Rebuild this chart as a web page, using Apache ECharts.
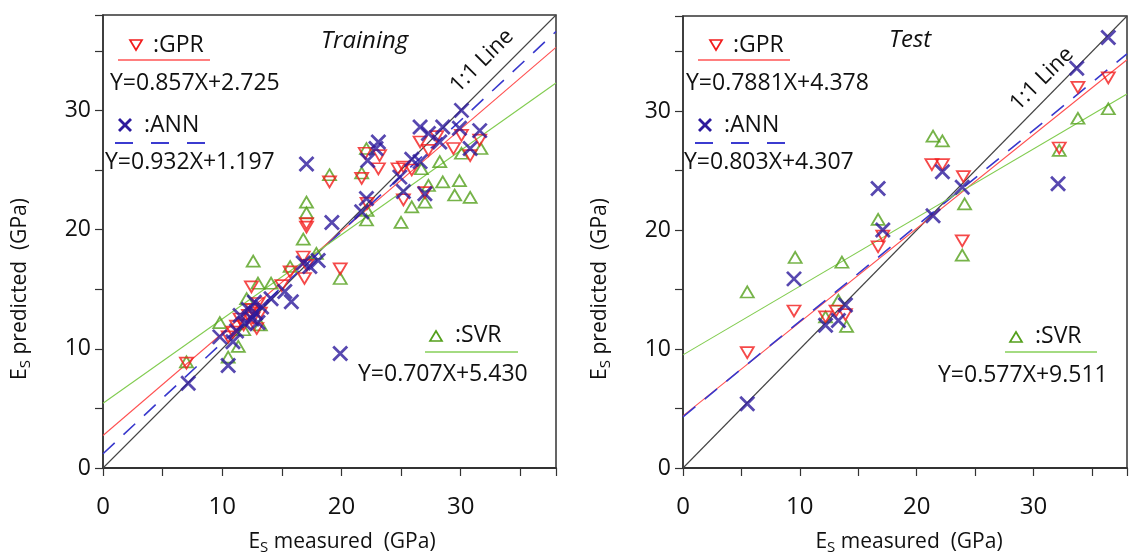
<!DOCTYPE html>
<html>
<head>
<meta charset="utf-8">
<title>Es measured vs predicted</title>
<script src="https://cdn.jsdelivr.net/npm/echarts@6/dist/echarts.min.js"></script>
<style>
    html, body { margin: 0; padding: 0; background: #fff; }
    #main { width: 1130px; height: 556px; }
</style>
</head>
<body>
<div id="main"></div>
<script>
// training set: [measured, predicted]
var trainGPR = [[7.0, 8.8], [10.5, 11.0], [10.9, 11.4], [11.2, 11.9], [11.5, 12.5], [11.8, 12.0], [12.2, 12.8],
    [12.5, 13.3], [12.9, 11.7], [12.6, 12.6], [13.2, 13.0], [13.0, 13.8], [12.45, 15.2], [15.0, 15.3],
    [15.7, 16.45], [16.9, 15.9], [16.8, 17.7], [17.1, 17.0], [19.9, 16.7], [17.07, 20.5], [17.07, 20.2],
    [19.0, 24.0], [21.7, 24.3], [22.0, 26.4], [23.2, 26.2], [23.1, 25.1], [22.15, 22.2], [24.75, 25.1],
    [25.2, 22.5], [25.9, 25.0], [27.0, 23.1], [26.6, 27.35], [27.3, 26.65], [28.0, 27.8], [30.07, 27.9],
    [29.4, 26.8], [31.6, 27.5], [30.8, 26.2], [25.2, 25.25]];
var trainANN = [[7.15, 7.1], [9.8, 11.0], [10.5, 8.6], [10.9, 10.6], [11.2, 11.5], [11.5, 12.8], [11.9, 12.1],
    [12.2, 13.3], [12.5, 12.5], [12.8, 13.0], [13.0, 12.2], [13.3, 13.5], [12.7, 13.9], [14.1, 14.2],
    [15.25, 14.8], [15.8, 13.95], [16.8, 17.2], [17.35, 16.9], [18.05, 17.4], [19.9, 9.6], [19.2, 20.6],
    [17.07, 25.5], [21.7, 21.5], [22.1, 22.6], [22.2, 25.8], [22.9, 26.8], [23.1, 27.35], [24.9, 24.4],
    [25.2, 23.2], [25.9, 25.9], [26.6, 25.7], [27.0, 23.0], [26.6, 28.6], [27.3, 28.05], [28.25, 27.35],
    [28.5, 28.6], [29.9, 28.5], [30.07, 30.0], [31.6, 28.3], [30.8, 26.8]];
var trainSVR = [[7.0, 8.9], [9.8, 12.2], [10.5, 9.3], [11.35, 10.2], [12.05, 14.2], [11.8, 11.6], [12.6, 17.35],
    [13.0, 15.5], [14.1, 15.5], [15.7, 16.9], [13.2, 12.0], [16.8, 19.2], [17.07, 21.4], [17.07, 22.3],
    [17.9, 18.0], [19.9, 15.9], [19.0, 24.6], [21.7, 24.75], [22.1, 26.8], [22.15, 21.6], [22.1, 20.8],
    [25.0, 20.6], [25.9, 21.9], [27.0, 22.3], [26.7, 25.1], [27.3, 23.7], [28.5, 24.0], [29.9, 24.1],
    [29.5, 22.9], [30.8, 22.7], [28.25, 25.7], [30.07, 26.4], [31.7, 26.8]];

// test set
var testGPR = [[5.5, 9.7], [9.5, 13.2], [12.2, 12.7], [13.1, 13.2], [13.9, 12.9], [16.7, 18.6], [17.1, 19.5],
    [21.3, 25.5], [22.2, 25.5], [24.0, 24.5], [23.9, 19.1], [32.2, 26.9], [33.8, 32.0], [36.4, 32.8]];
var testANN = [[5.5, 5.4], [9.5, 15.9], [12.2, 12.0], [13.3, 12.4], [13.9, 13.7], [16.7, 23.5], [17.1, 20.0],
    [21.4, 21.2], [22.2, 24.9], [23.9, 23.6], [32.1, 23.9], [33.7, 33.6], [36.4, 36.2]];
var testSVR = [[5.5, 14.8], [9.6, 17.7], [13.6, 17.3], [13.3, 14.1], [12.2, 12.7], [14.0, 11.9], [16.7, 20.9],
    [21.4, 27.9], [22.2, 27.5], [24.1, 22.2], [23.9, 17.9], [32.2, 26.7], [33.8, 29.4], [36.4, 30.2]];

// regression lines [slope, intercept] : GPR, ANN, SVR
var trainFit = [[0.857, 2.725], [0.932, 1.197], [0.707, 5.430]];
var testFit = [[0.7881, 4.378], [0.803, 4.307], [0.577, 9.511]];
var axisMax = 38;

var RED = "#f21c1c", BLUE = "#2d1a9c", GREEN = "#54a01c";
var FONT = "Open Sans";
var CROSS = "path://M0,0L10,10M0,10L10,0";

function fitLine(f) {
    return [[0, f[1]], [axisMax, f[0] * axisMax + f[1]]];
}

function makeAxis(idx, isX) {
    return {
        gridIndex: idx,
        min: 0,
        max: axisMax,
        interval: 5,
        splitLine: { show: false },
        axisLine: { lineStyle: { color: "#333", width: isX ? 2 : 1.5 } },
        axisTick: { length: 8, lineStyle: { color: "#333", width: 1.2 } },
        axisLabel: {
            fontFamily: FONT, fontSize: isX ? 24 : 23, color: "#111", margin: isX ? 27 : 12,
            formatter: function(v) { return v % 10 === 0 ? v : ""; }
        }
    };
}

function scatter(data, idx, kind) {
    var s = {
        type: "scatter", xAxisIndex: idx, yAxisIndex: idx, data: data, z: 3,
        itemStyle: { color: "rgba(0,0,0,0)", borderWidth: 1.8 }
    };
    if (kind === "gpr") {
        s.symbol = "triangle"; s.symbolRotate = 180; s.symbolSize = [13, 11];
        s.itemStyle.borderColor = RED;
    } else if (kind === "ann") {
        s.symbol = CROSS; s.symbolSize = 14;
        s.itemStyle.borderColor = BLUE; s.itemStyle.borderWidth = 2.8;
    } else {
        s.symbol = "triangle"; s.symbolSize = [13, 11];
        s.itemStyle.borderColor = GREEN;
    }
    return s;
}

function line(data, idx, color, type, width) {
    return {
        type: "line", xAxisIndex: idx, yAxisIndex: idx, data: data, showSymbol: false,
        silent: true, z: 2, clip: true,
        lineStyle: { color: color, width: width || 1.1, type: type || "solid" }
    };
}

// 图例/标注 用 graphic 画
function txt(x, y, s, size, extra) {
    var st = { text: s, fontFamily: FONT, fontSize: size || 23, fill: "#111", align: "left", verticalAlign: "middle" };
    for (var k in extra) st[k] = extra[k];
    return { type: "text", x: x, y: y, style: st, z: 10 };
}

function hline(x1, x2, y, color, dash) {
    return { type: "line", shape: { x1: x1, y1: y, x2: x2, y2: y },
        style: { stroke: color, lineWidth: dash ? 1.8 : 1.6, lineDash: dash || null }, z: 10 };
}

function tri(cx, cy, color, down) {
    var pts = down ? [[cx - 6, cy - 5], [cx + 6, cy - 5], [cx, cy + 5]] : [[cx - 6, cy + 5], [cx + 6, cy + 5], [cx, cy - 5]];
    return { type: "polygon", shape: { points: pts }, style: { fill: "none", stroke: color, lineWidth: 1.7 }, z: 10 };
}

function cross(cx, cy) {
    return { type: "group", z: 10, children: [
        { type: "line", shape: { x1: cx - 6, y1: cy - 6, x2: cx + 6, y2: cy + 6 }, style: { stroke: BLUE, lineWidth: 2.8 } },
        { type: "line", shape: { x1: cx - 6, y1: cy + 6, x2: cx + 6, y2: cy - 6 }, style: { stroke: BLUE, lineWidth: 2.8 } }
    ] };
}

function lineLabel(cx, cy) {
    return { type: "text", x: cx, y: cy, rotation: Math.PI / 4, z: 10,
        style: { text: "1:1 Line", fontFamily: FONT, fontSize: 22, fill: "#111", align: "center", verticalAlign: "middle" } };
}

var richTitle = {
    a: { fontFamily: FONT, fontSize: 21, fill: "#111" },
    s: { fontFamily: FONT, fontSize: 15, fill: "#111", padding: [11, 0, 0, 0] }
};

function xTitle(cx) {
    return { type: "text", x: cx, y: 542, z: 10,
        style: { text: "{a|E}{s|S}{a| measured  (GPa)}", rich: richTitle, align: "center", verticalAlign: "middle" } };
}

function yTitle(cx) {
    return { type: "text", x: cx, y: 289, rotation: Math.PI / 2, z: 10,
        style: { text: "{a|E}{s|S}{a| predicted  (GPa)}", rich: richTitle, align: "center", verticalAlign: "middle" } };
}

var graphics = [
    // Training
    tri(136, 45, RED, true), txt(153, 45, ":GPR"), hline(118, 210, 60, "#ff5555"),
    txt(110, 83, "Y=0.857X+2.725"),
    cross(125, 125), txt(144, 125, ":ANN"), hline(115, 210, 143, "#3b3bd0", [18, 18]),
    txt(105, 162, "Y=0.932X+1.197"),
    txt(321, 41, "Training", 24, { fontStyle: "italic" }),
    lineLabel(482, 61),
    tri(436, 336, GREEN, false), txt(455, 335, ":SVR"), hline(425, 518, 352, "#86cf58"),
    txt(358, 374, "Y=0.707X+5.430"),
    // Test
    tri(716, 45, RED, true), txt(733, 45, ":GPR"), hline(698, 790, 60, "#ff5555"),
    txt(686, 83, "Y=0.7881X+4.378"),
    cross(705, 125), txt(724, 125, ":ANN"), hline(695, 790, 143, "#3b3bd0", [18, 18]),
    txt(684, 162, "Y=0.803X+4.307"),
    txt(889, 40, "Test", 24, { fontStyle: "italic" }),
    lineLabel(1042, 79),
    tri(1016, 337, GREEN, false), txt(1035, 336, ":SVR"), hline(1005, 1097, 352, "#86cf58"),
    txt(938, 375, "Y=0.577X+9.511"),
    xTitle(342), xTitle(909), yTitle(20), yTitle(600)
];

var chart = echarts.init(document.getElementById("main"));
chart.setOption({
    animation: false,
    backgroundColor: "#fff",
    grid: [
        { left: 103, top: 15, width: 453, height: 453, show: true, borderColor: "#333", borderWidth: 1.5 },
        { left: 683, top: 16, width: 453, height: 452, show: true, borderColor: "#333", borderWidth: 1.5 }
    ],
    xAxis: [makeAxis(0, true), makeAxis(1, true)],
    yAxis: [makeAxis(0, false), makeAxis(1, false)],
    series: [
        line([[0, 0], [axisMax, axisMax]], 0, "#444"),
        line(fitLine(trainFit[0]), 0, "#ff5050"),
        line(fitLine(trainFit[1]), 0, "#3838cc", [16, 12], 1.6),
        line(fitLine(trainFit[2]), 0, "#82cc50"),
        scatter(trainSVR, 0, "svr"),
        scatter(trainGPR, 0, "gpr"),
        scatter(trainANN, 0, "ann"),
        line([[0, 0], [axisMax, axisMax]], 1, "#444"),
        line(fitLine(testFit[0]), 1, "#ff5050"),
        line(fitLine(testFit[1]), 1, "#3838cc", [16, 12], 1.6),
        line(fitLine(testFit[2]), 1, "#82cc50"),
        scatter(testSVR, 1, "svr"),
        scatter(testGPR, 1, "gpr"),
        scatter(testANN, 1, "ann")
    ],
    graphic: graphics
});
</script>
</body>
</html>
